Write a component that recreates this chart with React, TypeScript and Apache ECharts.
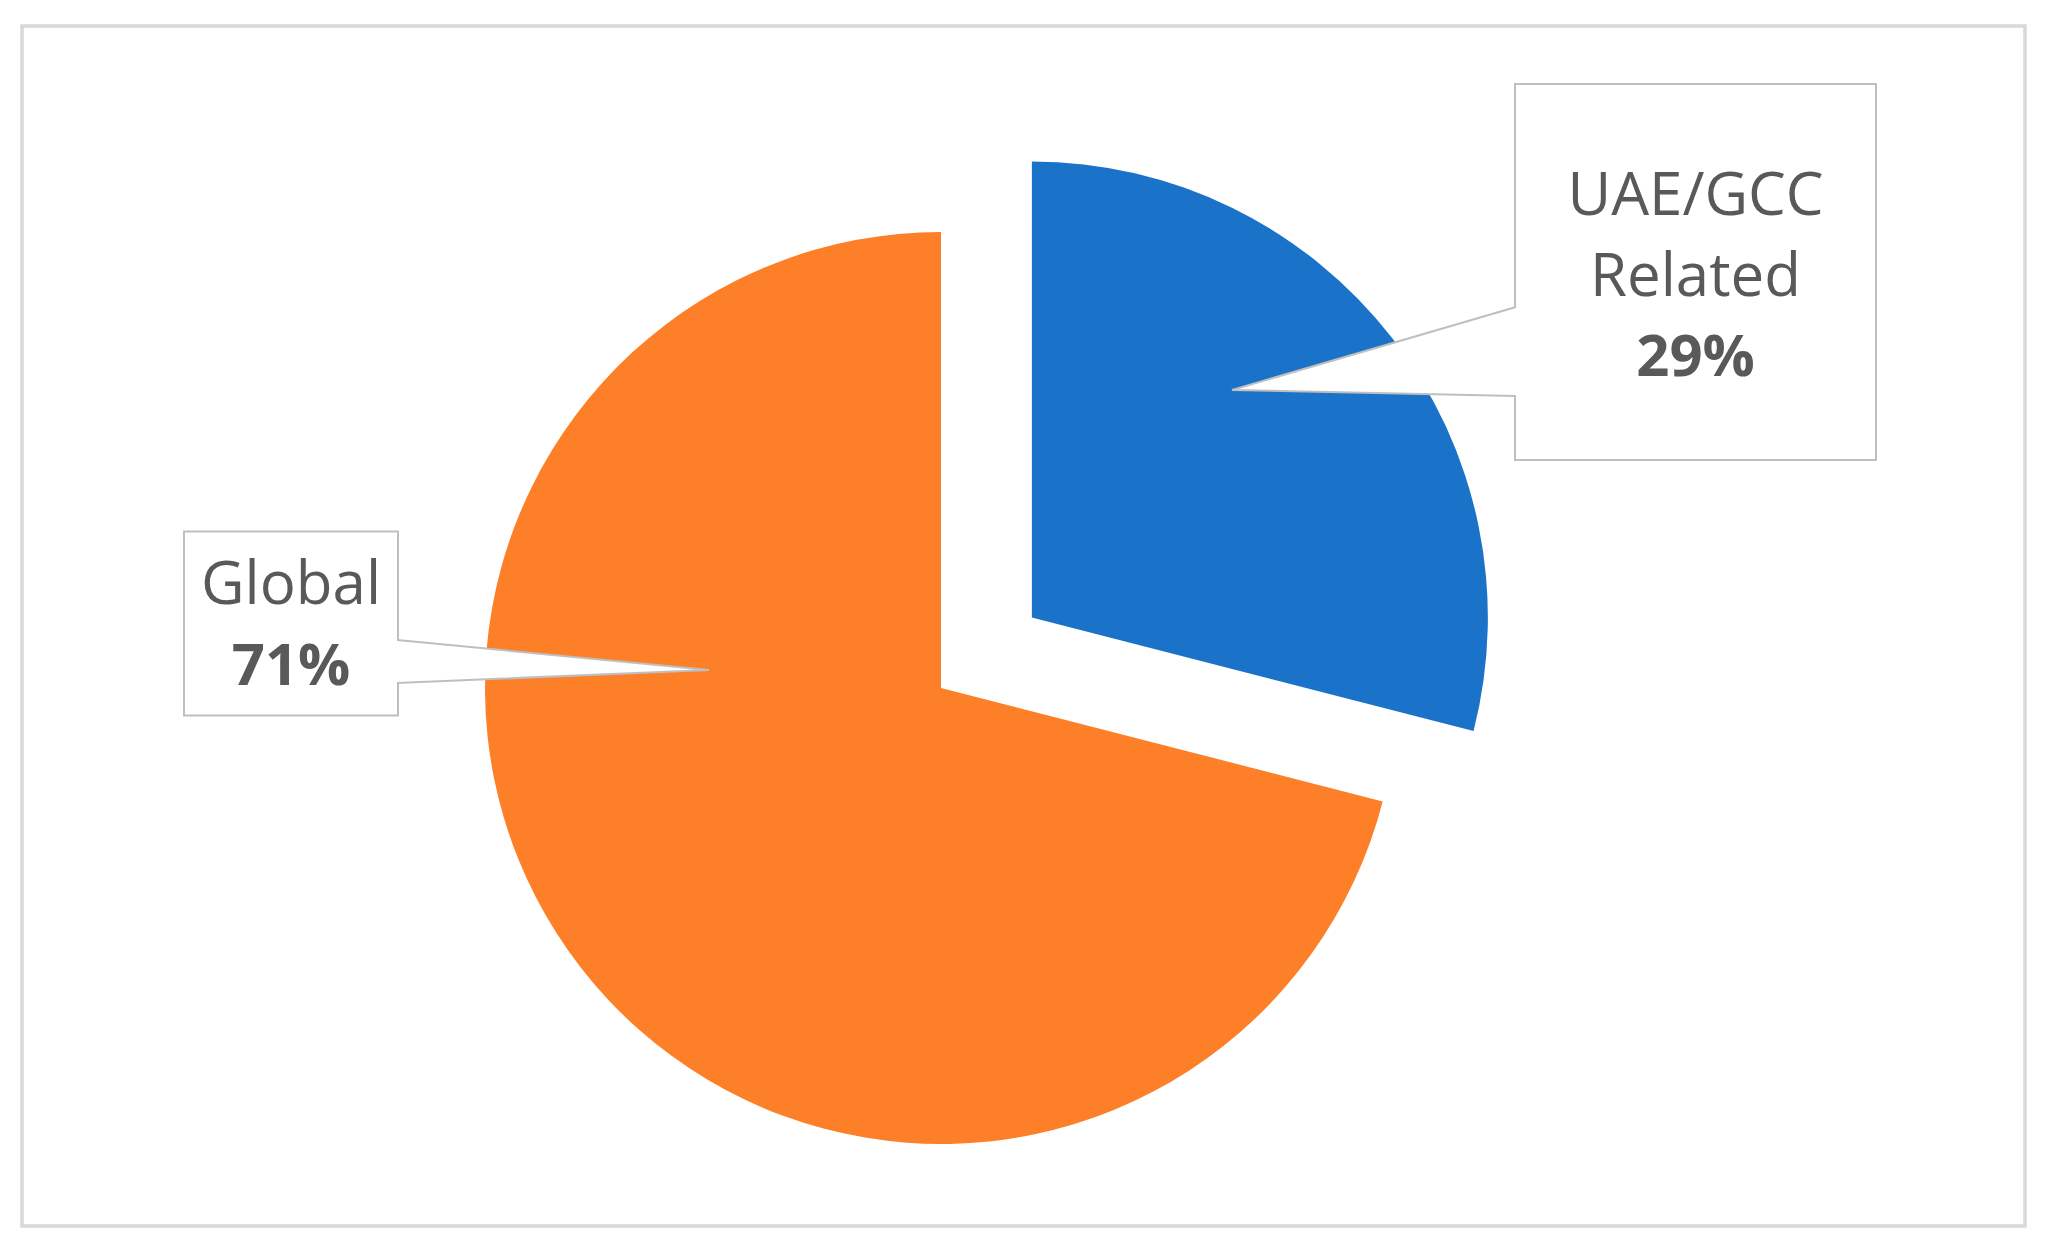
import React, { useEffect, useRef } from 'react';
import * as echarts from 'echarts';

// ---- data ----
const categories = ['UAE/GCC Related', 'Global'];
const shares = [29, 71];
const sliceColors = ['#1b72c9', '#fd7f28'];
const explodedIndex = 0;

export default function App() {
  const ref = useRef<HTMLDivElement>(null);

  useEffect(() => {
    const chart = echarts.init(ref.current as HTMLDivElement, null, { renderer: 'svg' });

    const pieCenter = [941, 688];
    const pieRadius = 456;
    const explodeDist = 115;
    const startAngle = 90;

    // mid angle of the exploded slice, derived from the data
    const total = shares.reduce((a, b) => a + b, 0);
    let before = 0;
    for (let i = 0; i < explodedIndex; i++) before += shares[i];
    const midDeg = startAngle - ((before + shares[explodedIndex] / 2) / total) * 360;
    const midRad = (midDeg * Math.PI) / 180;
    const explodedCenter = [
      pieCenter[0] + explodeDist * Math.cos(midRad),
      pieCenter[1] - explodeDist * Math.sin(midRad),
    ];

    const labelBoxes = [
      { x: 1695.5, y: 272, width: 359, padding: [66, 0, 65, 0] },
      { x: 291, y: 623.5, width: 212, padding: [8, 0, 12, 0] },
    ];

    const gray = '#bfbfbf';
    const wedge = (pts: number[][], edgeX: number, dir: number) => [
      {
        type: 'polygon',
        z: 100,
        shape: { points: [[edgeX + 2 * dir, pts[0][1]], pts[1], [edgeX + 2 * dir, pts[2][1]]] },
        style: { fill: '#ffffff', stroke: 'none' },
        silent: true,
      },
      {
        type: 'polyline',
        z: 101,
        shape: { points: pts },
        style: { stroke: gray, lineWidth: 2, fill: 'none' },
        silent: true,
      },
    ];

    const labelStyle = {
      show: true,
      position: 'outside',
      overflow: 'none',
      backgroundColor: '#ffffff',
      borderColor: gray,
      borderWidth: 2,
      lineHeight: 81,
      align: 'center',
      formatter: (p: any) =>
        String(p.name)
          .split(' ')
          .map((s: string) => `{n|${s}}`)
          .join('\n') + `\n{v|${Math.round(p.percent)}%}`,
      rich: {
        n: {
          fontFamily: 'Open Sans',
          fontSize: 60,
          color: '#595959',
          lineHeight: 81,
          align: 'center',
        },
        v: {
          fontFamily: 'Open Sans',
          fontSize: 58,
          fontWeight: 'bold',
          color: '#595959',
          lineHeight: 81,
          align: 'center',
        },
      },
    };

    const makeSeries = (visible: (i: number) => boolean, center: number[]) => ({
      type: 'pie',
      center,
      radius: pieRadius,
      startAngle,
      clockwise: true,
      avoidLabelOverlap: false,
      emphasis: { disabled: true },
      silent: true,
      data: categories.map((name, i) => ({
        name,
        value: shares[i],
        itemStyle: {
          color: visible(i) ? sliceColors[i] : 'rgba(0,0,0,0)',
          borderWidth: 0,
        },
        label: visible(i)
          ? { show: true, width: labelBoxes[i].width, padding: labelBoxes[i].padding }
          : { show: false },
      })),
      label: labelStyle,
      labelLine: { show: false },
      labelLayout: (params: any) => {
        const b = labelBoxes[params.dataIndex];
        return { x: b.x, y: b.y, align: 'center', verticalAlign: 'middle' };
      },
    });

    chart.setOption({
      animation: false,
      backgroundColor: '#ffffff',
      graphic: [
        {
          type: 'rect',
          z: 100,
          silent: true,
          shape: { x: 22, y: 26, width: 2003, height: 1200 },
          style: { fill: 'none', stroke: '#d9d9d9', lineWidth: 3.5 },
        },
        ...wedge([[1516, 307], [1232, 390], [1516, 396]], 1516, 1),
        ...wedge([[397, 640], [709, 670], [397, 683]], 397, -1),
      ],
      series: [
        makeSeries((i) => i !== explodedIndex, pieCenter),
        makeSeries((i) => i === explodedIndex, explodedCenter),
      ],
    });

    return () => chart.dispose();
  }, []);

  return (
    <div
      ref={ref}
      style={{ position: 'absolute', left: 0, top: 0, width: 2048, height: 1253, background: '#ffffff' }}
    />
  );
}
